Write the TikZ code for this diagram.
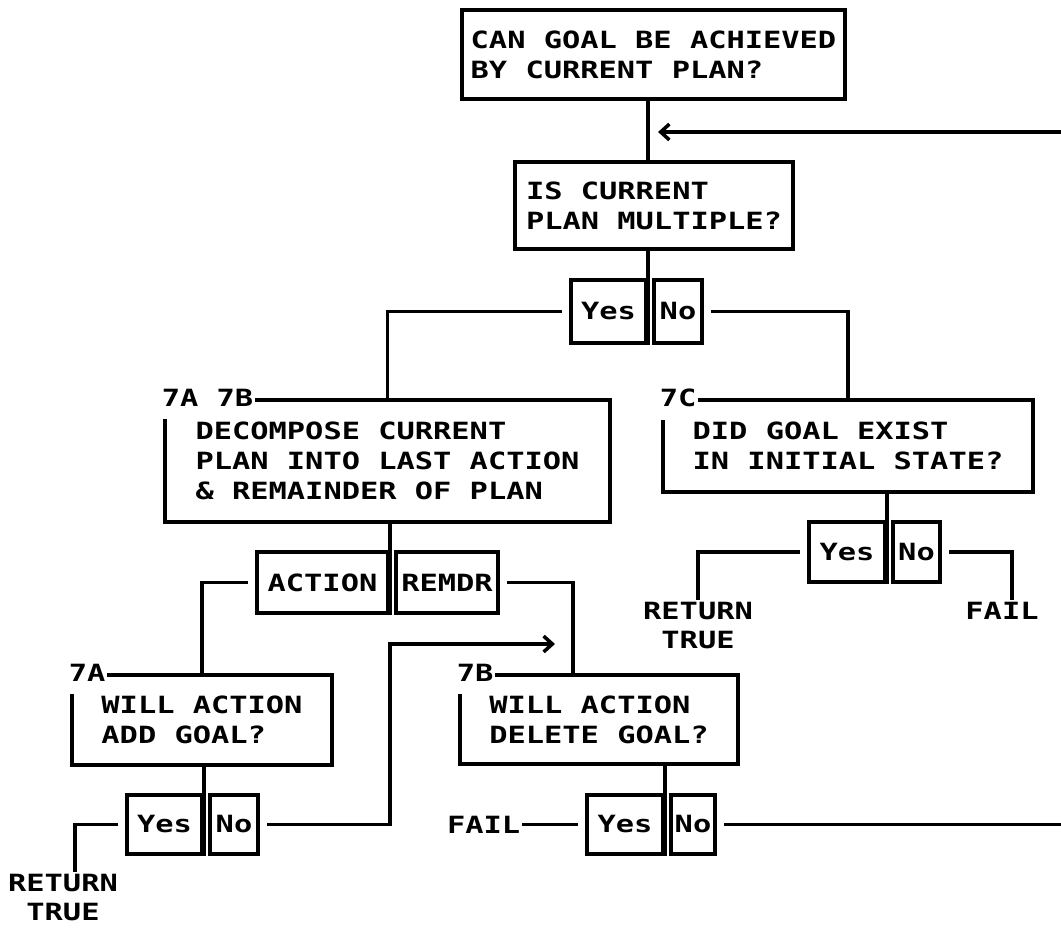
\documentclass[tikz,border=0pt]{standalone}
\usepackage{fontspec}
\usetikzlibrary{arrows.meta}
\newfontfamily\plotfam[FakeStretch=1.28]{DejaVu Sans Mono}
\newcommand{\plotfont}{\plotfam\bfseries\fontsize{13.5}{17}\selectfont}

\begin{document}
\begin{tikzpicture}[x=0.02cm,y=-0.02cm,line width=2pt,
  qbox/.style={draw,align=left,font=\plotfont,inner sep=2pt},
  ans/.style={draw,font=\plotfont,inner sep=2pt},
  tag/.style={fill=white,font=\plotfont,inner xsep=1pt,inner ysep=7pt,anchor=west},
  term/.style={font=\plotfont,align=center,inner sep=0pt},
  branch/.style={shorten <=4pt},
  backarrow/.style={-{Straight Barb[length=5pt,width=9pt]}}]

\useasboundingbox (0,0) rectangle (1061,929);

% -- question boxes
\node[qbox,minimum width=7.66cm,minimum height=1.78cm] (goal) at (653.5,54.5) {CAN GOAL BE ACHIEVED\\BY CURRENT PLAN?};
\node[qbox,minimum width=5.56cm,minimum height=1.74cm] (multi) at (654,205.5) {IS CURRENT\\PLAN MULTIPLE?};
\node[qbox,minimum width=8.90cm,minimum height=2.44cm] (decomp) at (387.5,461) {DECOMPOSE CURRENT\\PLAN INTO LAST ACTION\\\& REMAINDER OF PLAN};
\node[qbox,minimum width=7.40cm,minimum height=1.84cm] (exist) at (848,446) {DID GOAL EXIST\\IN INITIAL STATE?};
\node[qbox,minimum width=5.20cm,minimum height=1.80cm] (addgoal) at (202,720) {WILL ACTION\\ADD GOAL?};
\node[qbox,minimum width=5.56cm,minimum height=1.78cm] (delgoal) at (599,719.5) {WILL ACTION\\DELETE GOAL?};

% -- step tags
\node[tag] (tagAB) at ([xshift=-0.1cm]decomp.north west) {7A 7B};
\node[tag] (tagC) at ([xshift=-0.1cm]exist.north west) {7C};
\node[tag] (tagA) at ([xshift=-0.1cm]addgoal.north west) {7A};
\node[tag] (tagB) at ([xshift=-0.1cm]delgoal.north west) {7B};

% -- answer boxes
\node[ans,minimum width=1.50cm,minimum height=1.26cm] (yesA) at (608.5,311.5) {Yes};
\node[ans,minimum width=0.96cm,minimum height=1.26cm] (noA) at (678,311.5) {No};
\node[ans,minimum width=1.52cm,minimum height=1.20cm] (yesC) at (847,552) {Yes};
\node[ans,minimum width=0.94cm,minimum height=1.20cm] (noC) at (916.5,552) {No};
\node[ans,minimum width=2.62cm,minimum height=1.22cm] (action) at (322.5,582.5) {ACTION};
\node[ans,minimum width=2.04cm,minimum height=1.22cm] (remdr) at (447,582.5) {REMDR};
\node[ans,minimum width=1.50cm,minimum height=1.18cm] (yesD) at (164.5,824.5) {Yes};
\node[ans,minimum width=0.96cm,minimum height=1.18cm] (noD) at (234,824.5) {No};
\node[ans,minimum width=1.52cm,minimum height=1.18cm] (yesE) at (625,824.5) {Yes};
\node[ans,minimum width=0.88cm,minimum height=1.18cm] (noE) at (693,824.5) {No};

% -- end results
\node[term,anchor=north] (retC) at (698,600) {RETURN\\TRUE};
\node[term,anchor=north] (failC) at (1002,600) {FAIL};
\node[term,anchor=north] (retD) at (63,872) {RETURN\\TRUE};
\node[term,anchor=east] (failE) at (522,824.5) {FAIL};

\coordinate (backtip) at (658,132);
\coordinate (backin) at (1061,132);
\coordinate (loopin) at (555,644);
\coordinate (exitE) at (1061,824.5);

% -- main stem
\draw (goal.south -| yesA.east) -- (multi.north -| yesA.east);
\draw (multi.south -| yesA.east) -- (yesA.south east);
\draw[backarrow] (backin) -- (backtip);
\draw[branch] (yesA.west) -| (decomp.north);
\draw[branch] (noA.east) -| (exist.north);

% -- 7A 7B
\draw (decomp.south -| action.east) -- (action.south east);
\draw[branch] (action.west) -| (addgoal.north);
\draw[branch] (remdr.east) -| ([xshift=-0.52cm]delgoal.north);

% -- 7C
\draw (exist.south -| yesC.east) -- (yesC.south east);
\draw[branch] (yesC.west) -| (retC.north);
\draw[branch] (noC.east) -| ([xshift=0.2cm]failC.north);

% -- 7A
\draw (addgoal.south -| yesD.east) -- (yesD.south east);
\draw[branch] (yesD.west) -| ([xshift=0.24cm]retD.north);
\draw[branch,backarrow] (noD.east) -| (action.east |- loopin) -- (loopin);

% -- 7B
\draw (delgoal.south -| yesE.east) -- (yesE.south east);
\draw[branch] (yesE.west) -- (failE.east);
\draw[branch] (noE.east) -- (exitE);
\end{tikzpicture}
\end{document}
